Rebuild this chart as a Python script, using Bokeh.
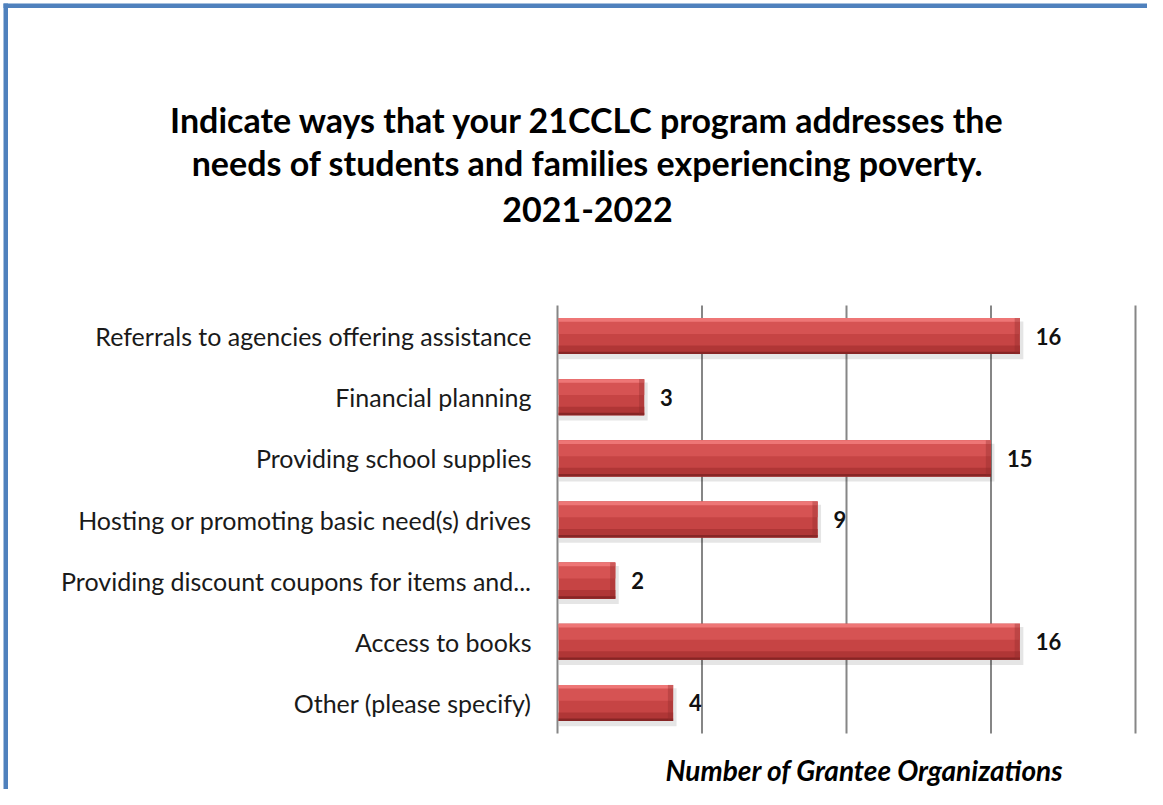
from bokeh.plotting import figure
from bokeh.models import Range1d, ColumnDataSource
from bokeh.embed import file_html
from bokeh.resources import INLINE
from bokeh.core.properties import value

# ---- data ----
categories = [
    "Referrals to agencies offering assistance",
    "Financial planning",
    "Providing school supplies",
    "Hosting or promoting basic need(s) drives",
    "Providing discount coupons for items and...",
    "Access to books",
    "Other (please specify)",
]
counts = [16, 3, 15, 9, 2, 16, 4]
x_ticks = [0, 5, 10, 15, 20]
title_lines = [
    "Indicate ways that your 21CCLC program addresses the",
    "needs of students and families experiencing poverty.",
    "2021-2022",
]
x_title = "Number of Grantee Organizations"

# ---- layout (reference pixel -> data coordinates) ----
W, H = 1147, 789
OFF = 0
n = len(categories)
X0_REF, X1_REF, Y0_REF, Y1_REF = 557, 1135, 305, 733
px_per_x = (X1_REF - X0_REF) / 20.0
px_per_y = (Y1_REF - Y0_REF) / float(n)


def dx(xr):
    return (xr - X0_REF) / px_per_x


def dy(yr):
    return n + (Y0_REF - yr) / px_per_y


p = figure(
    width=W, height=H, output_backend="svg", toolbar_location=None,
    x_range=Range1d(dx(OFF), dx(OFF + W)),
    y_range=Range1d(dy(OFF + H), dy(OFF)),
    min_border=0,
)
p.xaxis.visible = False
p.yaxis.visible = False
p.xgrid.visible = False
p.ygrid.visible = False
p.outline_line_color = None
p.background_fill_color = "white"
p.border_fill_color = "white"

ys = [n - 0.5 - i for i in range(n)]
BH = 0.59

# blue chart-area border (left and top edges)
p.quad(left=[dx(3), dx(3)], right=[dx(7.5), dx(OFF + W)],
       bottom=[dy(OFF + H), dy(7.5)], top=[dy(3), dy(3)],
       fill_color="#4F81BD", line_color=None)

# vertical gridlines
p.segment(x0=x_ticks, y0=[0] * len(x_ticks), x1=x_ticks, y1=[n] * len(x_ticks),
          line_color="#868686", line_width=2)

src = ColumnDataSource(dict(
    y=ys, v=counts,
    y_sh=[y - 0.07 for y in ys], v_sh=[c + 0.12 for c in counts],
    y_top=[y + BH / 2 - 0.13 for y in ys],
    y_top2=[y + BH / 2 - 0.03 for y in ys],
    y_bot=[y - BH / 2 + 0.07 for y in ys],
    y_bot2=[y - BH / 2 + 0.02 for y in ys],
    v_end=[c - 0.18 for c in counts],
    lab=[str(c) for c in counts],
    xl=[c + 0.55 for c in counts],
    cat=categories,
))

# shadow
p.hbar(y="y_sh", left=0.05, right="v_sh", height=BH + 0.03, source=src,
       fill_color="#000000", fill_alpha=0.10, line_color=None)
# body
p.hbar(y="y", left=0.04, right="v", height=BH, source=src,
       fill_color="#C64444", line_color=None)
# upper highlight bands
p.hbar(y="y_top", left=0.04, right="v", height=0.26, source=src,
       fill_color="#D65353", line_color=None)
p.hbar(y="y_top2", left=0.04, right="v", height=0.06, source=src,
       fill_color="#EE7676", line_color=None)
# lower dark bands
p.hbar(y="y_bot", left=0.04, right="v", height=0.14, source=src,
       fill_color="#B03636", line_color=None)
p.hbar(y="y_bot2", left=0.04, right="v", height=0.04, source=src,
       fill_color="#872525", line_color=None)
# right bevel
p.hbar(y="y", left="v_end", right="v", height=BH, source=src,
       fill_color="#8E2A2A", fill_alpha=0.35, line_color=None)

# value labels
p.text(x="xl", y="y", text="lab", source=src,
       text_font=value("Lato"), text_font_style="bold", text_font_size="22px",
       text_baseline="middle", text_align="left", text_color="#111111")

# category labels
p.text(x=dx(531), y="y", text="cat", source=src,
       text_font=value("Lato"), text_font_size="25px",
       text_baseline="middle", text_align="right", text_color="#1a1a1a")

# title lines
title_baselines = [119, 162, 209]
p.text(x=[dx(587)] * 3, y=[dy(b) for b in title_baselines], text=title_lines,
       text_font=value("Lato"), text_font_style="bold", text_font_size="34px",
       text_baseline="alphabetic", text_align="center", text_color="#000000")

# x-axis title
p.text(x=[dx(864)], y=[dy(769)], text=[x_title],
       text_font=value("Lato"), text_font_style="bold italic", text_font_size="28px",
       text_baseline="middle", text_align="center", text_color="#000000")

open("out.html", "w").write(file_html(p, INLINE))
